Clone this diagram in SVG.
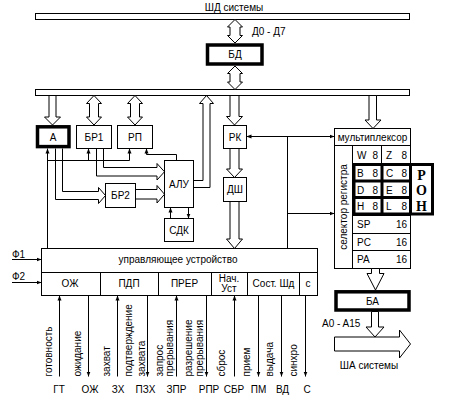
<svg xmlns="http://www.w3.org/2000/svg" width="452" height="404" viewBox="0 0 452 404">
<style>
.t{font-family:"Liberation Sans",Arial,sans-serif;font-size:10px;fill:#000}
.m{text-anchor:middle}
.e{text-anchor:end}
.ron{font-family:"Liberation Serif","Times New Roman",serif;font-size:14px;font-weight:bold;text-anchor:middle}
.b{fill:#fff;stroke:#000;stroke-width:1}
.k{fill:#fff;stroke:#000;stroke-width:3.5}
.ha{fill:#fff;stroke:#000;stroke-width:1}
.hn{fill:none;stroke:#000;stroke-width:1}
.c{fill:none;stroke:#000;stroke-width:1}
.a{marker-end:url(#ah)}
.th{fill:none;stroke:#000;stroke-width:3}
</style>
<defs>
<marker id="ah" viewBox="0 0 5 5" refX="5" refY="2.5" markerWidth="5" markerHeight="5" markerUnits="userSpaceOnUse" orient="auto-start-reverse"><path d="M0,0.5 L5,2.5 L0,4.5 z" fill="#000"/></marker>
</defs>

<g id="bus-data">
<rect class="b" x="35.5" y="13.5" width="374" height="6"/>
<text class="t m" x="234" y="10.5">ШД системы</text>
<text class="t" x="252" y="35">Д0 - Д7</text>
</g>
<g id="bus-internal"><rect class="b" x="35.5" y="89.5" width="374" height="6"/></g>

<g id="BD"><rect class="k" x="207.5" y="45" width="54.5" height="19"/><text class="t m" x="235" y="58">БД</text></g>
<g id="A"><rect class="k" x="37.5" y="126.8" width="31.5" height="19.8"/><text class="t m" x="53" y="140.5">А</text></g>
<g id="BR1"><rect class="b" x="76.5" y="125.5" width="35" height="23"/><text class="t m" x="94" y="140.5">БР1</text></g>
<g id="RP"><rect class="b" x="117.5" y="125.5" width="35" height="23"/><text class="t m" x="135" y="140.5">РП</text></g>
<g id="RK"><rect class="b" x="223.5" y="125.5" width="23" height="23"/><text class="t m" x="235" y="140.5">РК</text></g>
<g id="DSh"><rect class="b" x="223.5" y="177.5" width="23" height="24"/><text class="t m" x="235" y="193">ДШ</text></g>
<g id="ALU"><rect class="b" x="164.5" y="160.5" width="29" height="47"/><text class="t m" x="179" y="188">АЛУ</text></g>
<g id="BR2"><rect class="b" x="105.5" y="183.5" width="30" height="24"/><text class="t m" x="120.5" y="199">БР2</text></g>
<g id="SDK"><rect class="b" x="164.5" y="218.5" width="29" height="23"/><text class="t m" x="179" y="234">СДК</text></g>

<g id="CU">
<rect class="b" x="41.5" y="248.5" width="276" height="47"/>
<path class="c" d="M41.5,272.5 H317.5 M100.5,272.5 V295.5 M158.5,272.5 V295.5 M211.5,272.5 V295.5 M247.5,272.5 V295.5 M299.5,272.5 V295.5"/>
<text class="t m" x="178" y="263">управляющее устройство</text>
<text class="t m" x="70" y="286.5">ОЖ</text>
<text class="t m" x="129" y="286.5">ПДП</text>
<text class="t m" x="184.5" y="286.5">ПРЕР</text>
<text class="t m" x="229" y="281.5">Нач.</text>
<text class="t m" x="229" y="291.5">Уст</text>
<text class="t m" x="273.5" y="286.5">Сост. Шд</text>
<text class="t m" x="308" y="286.5">с</text>
</g>

<g id="MUX">
<rect class="b" x="334.5" y="128.5" width="76" height="140"/>
<path class="c" d="M334.5,145.5 H410.5 M352.5,145.5 V268.5 M381.5,145.5 V163.5 M352.5,215.5 H410.5 M352.5,233.5 H410.5 M352.5,250.5 H410.5"/>
<text class="t m" x="372.5" y="141">мультиплексор</text>
<text class="t m" transform="translate(347,207) rotate(-90)">селектор регистра</text>
<rect class="th" x="354" y="164.5" width="78.5" height="49.5"/>
<path class="th" d="M382,164.5 V214 M410.5,164.5 V214 M354,181 H410.5 M354,197.5 H410.5"/>
<text class="t" x="357" y="159">W</text><text class="t e" x="378" y="159">8</text>
<text class="t" x="386" y="159">Z</text><text class="t e" x="407" y="159">8</text>
<text class="t" x="357" y="177">B</text><text class="t e" x="378" y="177">8</text>
<text class="t" x="386" y="177">C</text><text class="t e" x="407" y="177">8</text>
<text class="t" x="357" y="193.5">D</text><text class="t e" x="378" y="193.5">8</text>
<text class="t" x="386" y="193.5">E</text><text class="t e" x="407" y="193.5">8</text>
<text class="t" x="357" y="210">H</text><text class="t e" x="378" y="210">8</text>
<text class="t" x="386" y="210">L</text><text class="t e" x="407" y="210">8</text>
<text class="t" x="357" y="228">SP</text><text class="t e" x="407" y="228">16</text>
<text class="t" x="357" y="245.5">PC</text><text class="t e" x="407" y="245.5">16</text>
<text class="t" x="357" y="263">PA</text><text class="t e" x="407" y="263">16</text>
<text class="ron" x="421.5" y="180">Р</text>
<text class="ron" x="421.5" y="195">О</text>
<text class="ron" x="421.5" y="210.5">Н</text>
</g>

<g id="BA"><rect class="k" x="336" y="291.8" width="73" height="18.2"/><text class="t m" x="372.5" y="304.5">БА</text></g>

<g id="bus-address">
<polygon class="ha" points="334.5,337 399.5,337 399.5,330 410.5,344 399.5,358 399.5,351 334.5,351"/>
<text class="t m" x="369" y="369">ША системы</text>
<text class="t" x="322" y="326.5">A0 - A15</text>
</g>

<g id="signals">
<text class="t" x="12" y="257.5">Ф1</text>
<text class="t" x="12" y="280">Ф2</text>
<g class="t">
<text transform="translate(51.5,376.5) rotate(-90)">готовность</text>
<text transform="translate(80.5,376.5) rotate(-90)">ожидание</text>
<text transform="translate(110,376.5) rotate(-90)">захват</text>
<text transform="translate(131.5,376.5) rotate(-90)">подтверждение</text>
<text transform="translate(145,376.5) rotate(-90)">захвата</text>
<text transform="translate(162.5,376.5) rotate(-90)">запрос</text>
<text transform="translate(173,376.5) rotate(-90)">прерывания</text>
<text transform="translate(191.5,376.5) rotate(-90)">разрешение</text>
<text transform="translate(202.5,376.5) rotate(-90)">прерывания</text>
<text transform="translate(225,376.5) rotate(-90)">сброс</text>
<text transform="translate(250,376.5) rotate(-90)">прием</text>
<text transform="translate(273,376.5) rotate(-90)">выдача</text>
<text transform="translate(297,376.5) rotate(-90)">синхро</text>
</g>
<text class="t m" x="59" y="393">ГТ</text>
<text class="t m" x="90" y="393">ОЖ</text>
<text class="t m" x="118" y="393">ЗХ</text>
<text class="t m" x="145.5" y="393">ПЗХ</text>
<text class="t m" x="176.5" y="393">ЗПР</text>
<text class="t m" x="209" y="393">РПР</text>
<text class="t m" x="234" y="393">СБР</text>
<text class="t m" x="258.5" y="393">ПМ</text>
<text class="t m" x="282.5" y="393">ВД</text>
<text class="t m" x="307" y="393">С</text>
</g>

<g id="connectors">
<polygon class="ha" points="235,19.5 242.5,27 240,27 240,35.5 242.5,35.5 235,43 227.5,35.5 230,35.5 230,27 227.5,27"/>
<polygon class="ha" points="235,66 242.5,73.5 240,73.5 240,82 242.5,82 235,89.5 227.5,82 230,82 230,73.5 227.5,73.5"/>
<polygon class="ha" points="49,95.5 56,95.5 56,117 60.5,117 52.5,125 44.5,117 49,117"/>
<polygon class="ha" points="94,95.5 101.5,103.5 98.5,103.5 98.5,117 101.5,117 94,125 86.5,117 89.5,117 89.5,103.5 86.5,103.5"/>
<polygon class="ha" points="135,95.5 142.5,103.5 139.5,103.5 139.5,117 142.5,117 135,125 127.5,117 130.5,117 130.5,103.5 127.5,103.5"/>
<polygon class="ha" points="230,95.5 239,95.5 239,116.5 242.5,116.5 234.5,125 226.5,116.5 230,116.5"/>
<polygon class="ha" points="230,148.5 239,148.5 239,169 242.5,169 234.5,177.5 226.5,169 230,169"/>
<polygon class="ha" points="230,201.5 239,201.5 239,239 242.5,239 234.5,248.5 226.5,239 230,239"/>
<polygon class="ha" points="369,95.5 376.5,95.5 376.5,120 381,120 373,128.5 365,120 369,120"/>
<polygon class="ha" points="371.5,268.5 379.5,268.5 379.5,273.5 384,273.5 375.5,290 367,273.5 371.5,273.5"/>
<polygon class="ha" points="371.5,311.5 378.5,311.5 378.5,327 384,327 375,337 366,327 371.5,327"/>
<polyline class="hn" points="193.5,180.5 203,180.5 203,103.5 199.5,103.5 206.5,95.5 213.5,103.5 210,103.5 210,187.5 193.5,187.5"/>
<polyline class="hn" points="96.5,148.5 96.5,176 157,176 157,180 164.5,171.75 157,163.5 157,167.5 103.5,167.5 103.5,148.5"/>
<polyline class="hn" points="55.5,148.5 55.5,199.5 98.5,199.5 98.5,203.5 105.5,195.5 98.5,187.5 98.5,191.5 62.5,191.5 62.5,148.5"/>
<polyline class="hn" points="135.5,189.5 157,189.5 157,185.5 164.5,194.25 157,203 157,199 135.5,199"/>
<path class="c a" d="M47.5,248.5 V148.5"/>
<path class="c" d="M47.5,160.5 H129.5"/>
<path class="c a" d="M88.5,160.5 V148.5"/>
<path class="c a" d="M129.5,160.5 V148.5"/>
<path class="c a" d="M176.5,160.5 V154.5 H146.5 V148.5"/>
<path class="c a" d="M170.5,218.5 V207.5"/>
<path class="c a" d="M188.5,207.5 V218.5"/>
<path class="c" d="M287.5,248.5 V136.5"/>
<path class="c a" d="M246.5,136.5 H334.5" marker-start="url(#ah)"/>
<path class="c a" d="M287.5,213.5 H334.5"/>
<path class="c a" d="M12,259.5 H41.5"/>
<path class="c a" d="M12,282.5 H41.5"/>
<path class="c a" d="M59.5,376.5 V295.5"/>
<path class="c a" d="M117.5,376.5 V295.5"/>
<path class="c a" d="M176.5,376.5 V295.5"/>
<path class="c a" d="M234.5,376.5 V295.5"/>
<path class="c a" d="M88.5,295.5 V376.5"/>
<path class="c a" d="M147.5,295.5 V376.5"/>
<path class="c a" d="M206.5,295.5 V376.5"/>
<path class="c a" d="M258.5,295.5 V376.5"/>
<path class="c a" d="M281.5,295.5 V376.5"/>
<path class="c a" d="M305.5,295.5 V376.5"/>
</g>
</svg>
